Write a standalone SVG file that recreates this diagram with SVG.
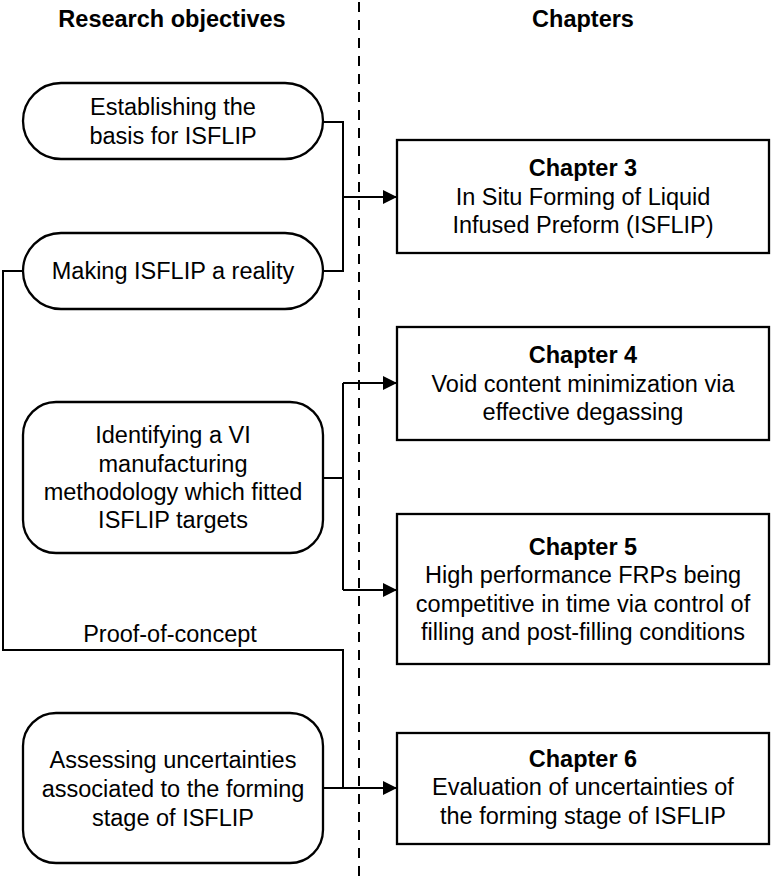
<svg xmlns="http://www.w3.org/2000/svg" width="771" height="876" viewBox="0 0 771 876">
  <style>
    text { font-family: "Liberation Sans", Arial, sans-serif; font-size: 23.5px; fill: #000; text-anchor: middle; }
    .head { font-weight: bold; }
    .box { fill: #fff; stroke: #000; stroke-width: 2.3; }
    .wire { fill: none; stroke: #000; stroke-width: 2; }
    .divider { fill: none; stroke: #000; stroke-width: 2; stroke-dasharray: 10 8; }
  </style>
  <defs>
    <marker id="arrow" viewBox="0 0 14 14" refX="14" refY="7" markerWidth="14" markerHeight="14" markerUnits="userSpaceOnUse" orient="auto">
      <path d="M0,0 L14,7 L0,14 Z" fill="#000"/>
    </marker>
  </defs>
  <rect width="771" height="876" fill="#fff"/>

  <!-- column headings -->
  <text class="head" x="172" y="27">Research objectives</text>
  <text class="head" x="583" y="27">Chapters</text>

  <!-- separator between the two columns -->
  <line class="divider" x1="359" y1="2" x2="359" y2="876"/>

  <!-- connectors -->
  <g id="connectors">
    <path class="wire" d="M323,122 H343 V271 H323"/>
    <path class="wire" d="M343,197 H397" marker-end="url(#arrow)"/>
    <path class="wire" d="M323,478 H343"/>
    <path class="wire" d="M343,383 V590"/>
    <path class="wire" d="M343,383 H397" marker-end="url(#arrow)"/>
    <path class="wire" d="M343,590 H397" marker-end="url(#arrow)"/>
    <path class="wire" d="M23,271 H3 V650 H343 V788"/>
    <path class="wire" d="M323,788 H397" marker-end="url(#arrow)"/>
    <text x="170" y="642">Proof-of-concept</text>
  </g>

  <!-- research objectives -->
  <g id="obj-basis">
    <rect class="box" x="23" y="83" width="300" height="76" rx="38" ry="38"/>
    <text x="173" y="115">Establishing the</text>
    <text x="173" y="144">basis for ISFLIP</text>
  </g>
  <g id="obj-reality">
    <rect class="box" x="23" y="233" width="300" height="76" rx="38" ry="38"/>
    <text x="173" y="279">Making ISFLIP a reality</text>
  </g>
  <g id="obj-vi">
    <rect class="box" x="23" y="402" width="300" height="151" rx="33" ry="33"/>
    <text x="173" y="443">Identifying a VI</text>
    <text x="173" y="472">manufacturing</text>
    <text x="173" y="500">methodology which fitted</text>
    <text x="173" y="528">ISFLIP targets</text>
  </g>
  <g id="obj-uncertainty">
    <rect class="box" x="23" y="713" width="300" height="150" rx="33" ry="33"/>
    <text x="173" y="768">Assessing uncertainties</text>
    <text x="173" y="797">associated to the forming</text>
    <text x="173" y="826">stage of ISFLIP</text>
  </g>

  <!-- chapters -->
  <g id="chapter-3">
    <rect class="box" x="397" y="140" width="372" height="113"/>
    <text class="head" x="583" y="176">Chapter 3</text>
    <text x="583" y="205">In Situ Forming of Liquid</text>
    <text x="583" y="233">Infused Preform (ISFLIP)</text>
  </g>
  <g id="chapter-4">
    <rect class="box" x="397" y="327" width="372" height="113"/>
    <text class="head" x="583" y="363">Chapter 4</text>
    <text x="583" y="392">Void content minimization via</text>
    <text x="583" y="420">effective degassing</text>
  </g>
  <g id="chapter-5">
    <rect class="box" x="397" y="514" width="372" height="150"/>
    <text class="head" x="583" y="555">Chapter 5</text>
    <text x="583" y="583">High performance FRPs being</text>
    <text x="583" y="612">competitive in time via control of</text>
    <text x="583" y="640">filling and post-filling conditions</text>
  </g>
  <g id="chapter-6">
    <rect class="box" x="397" y="733" width="372" height="111"/>
    <text class="head" x="583" y="767">Chapter 6</text>
    <text x="583" y="795">Evaluation of uncertainties of</text>
    <text x="583" y="824">the forming stage of ISFLIP</text>
  </g>
</svg>
